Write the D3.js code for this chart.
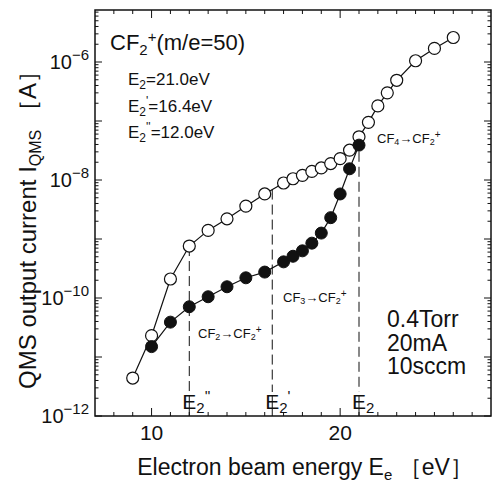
<!DOCTYPE html>
<html>
<head>
<meta charset="utf-8">
<script src="https://cdn.jsdelivr.net/npm/d3@7"></script>
<style>
body { margin: 0; background: #fff; }
text { font-family: "Liberation Sans", Arial, sans-serif; fill: #111; }
</style>
</head>
<body>
<div id="chart"></div>
<script>
// Open circles: total CF2+ signal
var openEnergy = [9, 10, 11, 12, 13, 14, 15, 16, 17, 17.5, 18, 18.5, 19, 19.5, 20, 20.5, 21, 21.5, 22, 22.5, 23, 24, 25, 26];
var openCurrent = [4.4e-12, 2.3e-11, 2.1e-10, 7.6e-10, 1.4e-9, 2.2e-9, 3.6e-9, 5.8e-9, 8.9e-9, 1.05e-8, 1.2e-8, 1.4e-8,
    1.6e-8, 1.9e-8, 2.3e-8, 3.2e-8, 5.4e-8, 9.5e-8, 1.8e-7, 3.0e-7, 4.9e-7, 1.05e-6, 1.7e-6, 2.6e-6];
// Filled circles
var filledEnergy = [10, 11, 12, 13, 14, 15, 16, 17, 17.5, 18, 18.5, 19, 19.5, 20, 20.5, 21];
var filledCurrent = [1.5e-11, 3.9e-11, 7.1e-11, 1.05e-10, 1.55e-10, 2.2e-10, 2.75e-10, 4.1e-10, 5.1e-10, 6.3e-10,
    8.5e-10, 1.26e-9, 2.3e-9, 5.8e-9, 1.55e-8, 3.9e-8];
// Threshold energies E2'', E2', E2
var thresholdEnergy = [12.0, 16.4, 21.0];
var thresholdPrime = ["''", "'", ''];
var xMajorTicks = [10, 20];
var yDecades = [-12, -11, -10, -9, -8, -7, -6];
var yLabelDecades = [-12, -10, -8, -6];

var W = 493, H = 487;
var pLeft = 95, pRight = 491, pTop = 10, pBottom = 416;

var svg = d3.select('#chart').append('svg')
    .attr('width', W)
    .attr('height', H);

var x = d3.scaleLinear().domain([7, 28]).range([pLeft, pRight]);
var y = d3.scaleLog().domain([1e-12, Math.pow(10, -12 + 406 / 59)]).range([pBottom, pTop]);

// Frame
svg.append('rect')
    .attr('x', pLeft).attr('y', pTop)
    .attr('width', pRight - pLeft).attr('height', pBottom - pTop)
    .attr('fill', 'none').attr('stroke', '#111').attr('stroke-width', 1.5);

// Tick marks, pointing inward on all four sides
var ticks = svg.append('g').attr('stroke', '#111').attr('stroke-width', 1);
var xMinor = d3.range(8, 28);
xMinor.forEach(function(v) {
    var len = xMajorTicks.indexOf(v) >= 0 ? 8 : 4;
    ticks.append('line').attr('x1', x(v)).attr('x2', x(v)).attr('y1', pBottom).attr('y2', pBottom - len);
    ticks.append('line').attr('x1', x(v)).attr('x2', x(v)).attr('y1', pTop).attr('y2', pTop + len);
});
var yMinor = [];
yDecades.forEach(function(d) {
    for (var m = 1; m < 10; m++) {
        var v = m * Math.pow(10, d);
        if (v <= y.domain()[1]) yMinor.push({v: v, major: m === 1});
    }
});
yMinor.forEach(function(t) {
    var len = t.major ? 7 : 3.5;
    ticks.append('line').attr('x1', pLeft).attr('x2', pLeft + len).attr('y1', y(t.v)).attr('y2', y(t.v));
    ticks.append('line').attr('x1', pRight).attr('x2', pRight - len).attr('y1', y(t.v)).attr('y2', y(t.v));
});

// Tick labels
xMajorTicks.forEach(function(v) {
    svg.append('text').attr('x', x(v)).attr('y', 440)
        .attr('text-anchor', 'middle').attr('font-size', 21).text(v);
});
yLabelDecades.forEach(function(d) {
    var t = svg.append('text').attr('x', 89).attr('y', y(Math.pow(10, d)) + 7)
        .attr('text-anchor', 'end').attr('font-size', 20);
    t.append('tspan').text('10');
    t.append('tspan').attr('dy', -9).attr('font-size', 15).text('\u2212' + (-d));
});

// Axis titles
var xt = svg.append('text').attr('x', 305).attr('y', 475)
    .attr('text-anchor', 'middle').attr('font-size', 23);
xt.append('tspan').text('Electron beam energy E');
xt.append('tspan').attr('dy', 5).attr('font-size', 15).text('e');
xt.append('tspan').attr('dy', -5).text(' \uFF3BeV\uFF3D');

var yt = svg.append('text').attr('transform', 'translate(36,224) rotate(-90)')
    .attr('text-anchor', 'middle').attr('font-size', 24);
yt.append('tspan').text('QMS output current I');
yt.append('tspan').attr('dy', 5).attr('font-size', 16).text('QMS');
yt.append('tspan').attr('dy', -5).text('  \uFF3BA\uFF3D');

// Threshold markers: dashed line from the open curve down to the axis
var logInterp = function(e) {
    var i = d3.bisectLeft(openEnergy, e);
    if (openEnergy[i] === e) return openCurrent[i];
    var t = (e - openEnergy[i - 1]) / (openEnergy[i] - openEnergy[i - 1]);
    return Math.pow(10, Math.log10(openCurrent[i - 1]) * (1 - t) + Math.log10(openCurrent[i]) * t);
};
thresholdEnergy.forEach(function(e, i) {
    svg.append('line')
        .attr('x1', x(e)).attr('x2', x(e))
        .attr('y1', y(logInterp(e))).attr('y2', 392)
        .attr('stroke', '#111').attr('stroke-width', 1)
        .attr('stroke-dasharray', '10,5');
    svg.append('line')
        .attr('x1', x(e)).attr('x2', x(e))
        .attr('y1', 396).attr('y2', pBottom)
        .attr('stroke', '#111').attr('stroke-width', 1);
    var lab = svg.append('text').attr('x', x(e) - 7).attr('y', 409).attr('font-size', 21);
    lab.append('tspan').text('E');
    lab.append('tspan').attr('dy', 4).attr('font-size', 15).text('2');
    if (thresholdPrime[i]) lab.append('tspan').attr('dy', -12).attr('font-size', 15).text(thresholdPrime[i]);
});

// Series
var line = d3.line()
    .x(function(d) { return x(d[0]); })
    .y(function(d) { return y(d[1]); });

var openData = d3.zip(openEnergy, openCurrent);
var filledData = d3.zip(filledEnergy, filledCurrent);

svg.append('path').datum(openData).attr('d', line)
    .attr('fill', 'none').attr('stroke', '#111').attr('stroke-width', 1.2);
svg.append('g').selectAll('circle').data(openData).enter().append('circle')
    .attr('cx', function(d) { return x(d[0]); })
    .attr('cy', function(d) { return y(d[1]); })
    .attr('r', 6)
    .attr('fill', '#fff').attr('stroke', '#111').attr('stroke-width', 1.2);

svg.append('path').datum(filledData).attr('d', line)
    .attr('fill', 'none').attr('stroke', '#111').attr('stroke-width', 1.2);
svg.append('g').selectAll('circle').data(filledData).enter().append('circle')
    .attr('cx', function(d) { return x(d[0]); })
    .attr('cy', function(d) { return y(d[1]); })
    .attr('r', 6)
    .attr('fill', '#111').attr('stroke', '#111').attr('stroke-width', 1);

// Annotations
var title = svg.append('text').attr('x', 110).attr('y', 50).attr('font-size', 22);
title.append('tspan').text('CF');
title.append('tspan').attr('dy', 5).attr('font-size', 15).text('2');
title.append('tspan').attr('dy', -13).attr('font-size', 15).text('+');
title.append('tspan').attr('dy', 8).text('(m/e=50)');

var eLines = [['', '=21.0eV', 85], ["'", '=16.4eV', 112], ["''", '=12.0eV', 138]];
eLines.forEach(function(l) {
    var t = svg.append('text').attr('x', 128).attr('y', l[2]).attr('font-size', 17);
    t.append('tspan').text('E');
    t.append('tspan').attr('dy', 4).attr('font-size', 12).text('2');
    if (l[0]) t.append('tspan').attr('dy', -11).attr('font-size', 12).text(l[0]);
    t.append('tspan').attr('dy', l[0] ? 7 : -4).text(l[1]);
});

function reaction(xp, yp, from) {
    var t = svg.append('text').attr('x', xp).attr('y', yp).attr('font-size', 13);
    t.append('tspan').text('CF');
    t.append('tspan').attr('dy', 2).attr('font-size', 9).text(from);
    t.append('tspan').attr('dy', -2).text('\u2192CF');
    t.append('tspan').attr('dy', 2).attr('font-size', 9).text('2');
    t.append('tspan').attr('dy', -7).attr('font-size', 10).text('+');
}
reaction(377, 143, '4');
reaction(283, 302, '3');
reaction(198, 338, '2');

var cond = ['0.4Torr', '20mA', '10sccm'];
cond.forEach(function(c, i) {
    svg.append('text').attr('x', 387).attr('y', 327 + i * 23.5).attr('font-size', 23).text(c);
});
</script>
</body>
</html>
